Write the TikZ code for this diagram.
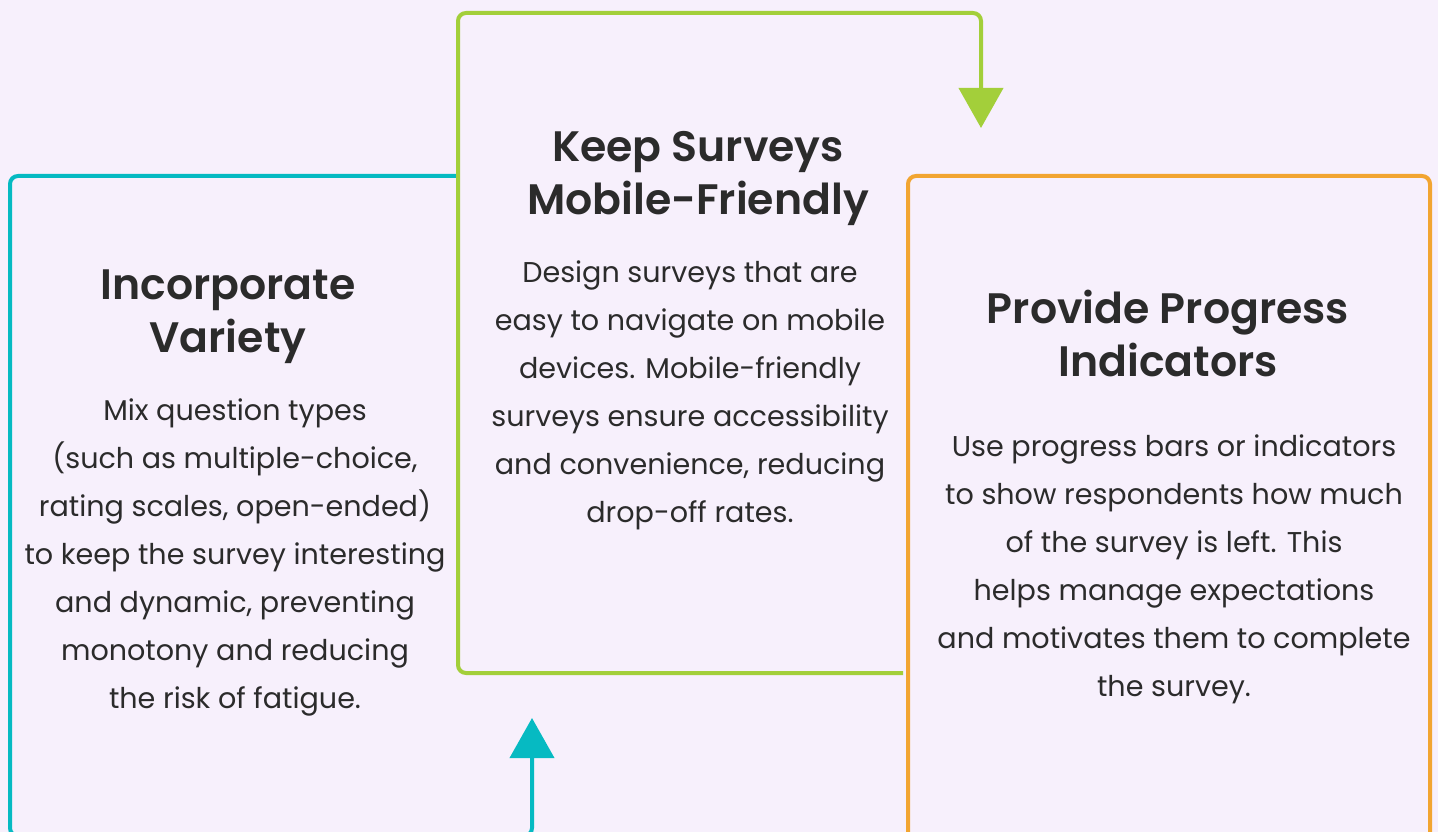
\documentclass[tikz,border=0pt]{standalone}
\usepackage{fontspec}
\setmainfont{Poppins}[BoldFont={Poppins SemiBold}]
\usepackage{tikz}
\usetikzlibrary{arrows.meta,positioning}
\definecolor{bgcol}{HTML}{F7F0FC}
\definecolor{tealcol}{HTML}{06BAC2}
\definecolor{greencol}{HTML}{A3CF3A}
\definecolor{orangecol}{HTML}{F2A531}
\definecolor{textcol}{HTML}{2B2B2B}

\begin{document}
\begin{tikzpicture}[
    x=1pt, y=-1pt,
    % 标题样式
    title style/.style={
        align=center,        % 居中
        inner sep=0pt,       % 内部填充为0
        text=textcol,
        font=\bfseries\fontsize{42.6}{53}\selectfont
    },
    % 正文样式
    body style/.style={
        align=center,
        inner sep=0pt,
        text=textcol,
        font=\fontsize{28.6}{48}\selectfont
    },
    % 边框样式
    frame style/.style={
        line width=4pt,      % 线宽
        rounded corners=8pt  % 圆角
    },
    % 箭头样式
    arrow style/.style={
        -{Triangle[width=44pt,length=40pt]}
    }
]

% 背景
\useasboundingbox (0,0) rectangle (1438,832);
\fill[bgcol] (0,0) rectangle (1438,832);
\clip (0,0) rectangle (1438,832);

% 框的角点
\coordinate (tealtop) at (457,176);
\coordinate (tealbot) at (532,836);
\coordinate (tealend) at (532,718);
\coordinate (greenbot) at (903,673);
\coordinate (greenend) at (981,128);

% 左框 + 向上箭头
\draw[frame style, arrow style, tealcol] (tealtop) -- (10,176) -- (10,836) -- (tealbot) -- (tealend);
% 中框 + 向下箭头
\draw[frame style, arrow style, greencol] (greenbot) -- (458,673) -- (458,13) -- (981,13) -- (greenend);
% 右框
\draw[frame style, orangecol] (908,176) rectangle (1430,860);

% 文字
\node[title style] (title1) at (228,317) {Incorporate\\Variety};
\node[body style, below=34pt of title1, xshift=7pt] (body1) {Mix question types\\(such as multiple-choice,\\rating scales, open-ended)\\to keep the survey interesting\\and dynamic, preventing\\monotony and reducing\\the risk of fatigue.};

\node[title style] (title2) at (698,179) {Keep Surveys\\Mobile-Friendly};
\node[body style, below=34pt of title2, xshift=-8pt] (body2) {Design surveys that are\\easy to navigate on mobile\\devices. Mobile-friendly\\surveys ensure accessibility\\and convenience, reducing\\drop-off rates.};

\node[title style] (title3) at (1168,333.5) {Provide Progress\\Indicators};
\node[body style, below=57pt of title3, xshift=6pt] (body3) {Use progress bars or indicators\\to show respondents how much\\of the survey is left. This\\helps manage expectations\\and motivates them to complete\\the survey.};

\end{tikzpicture}
\end{document}
